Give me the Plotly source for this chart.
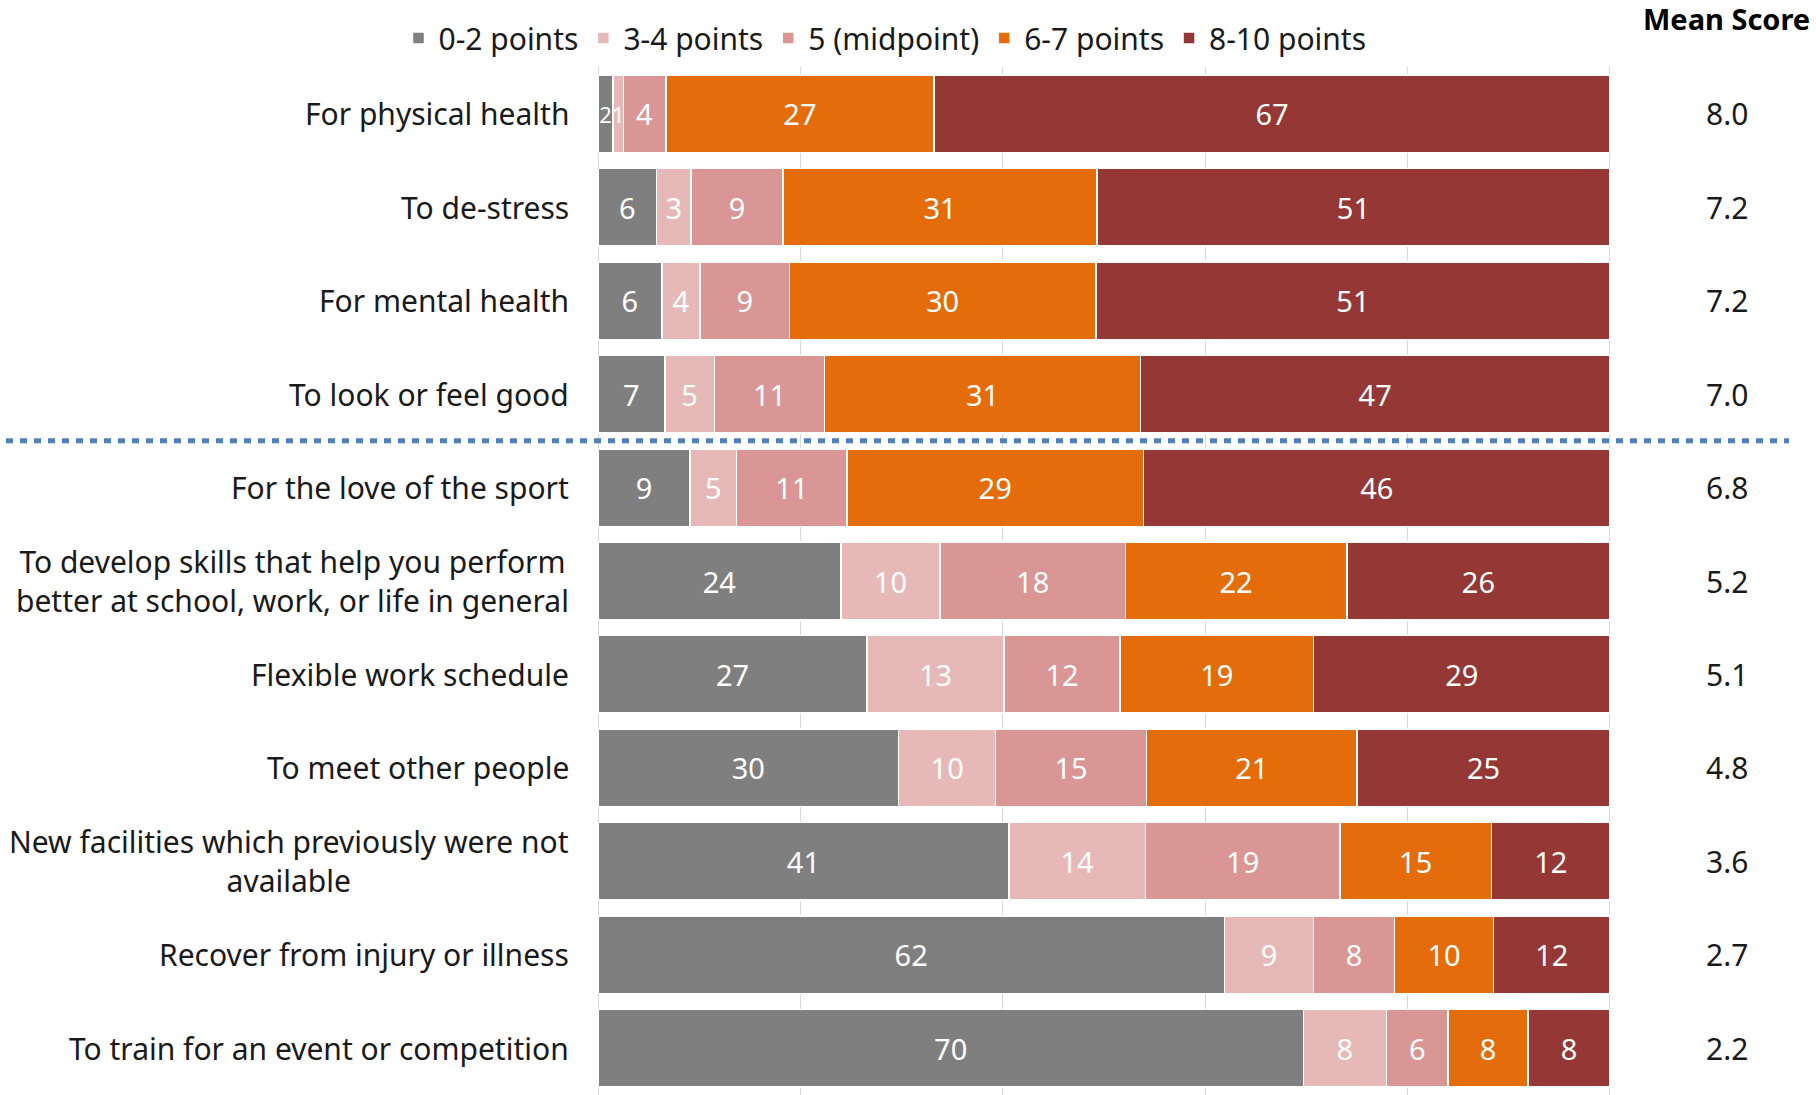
import plotly.graph_objects as go

categories = [
    "For physical health",
    "To de-stress",
    "For mental health",
    "To look or feel good",
    "For the love of the sport",
    "To develop skills that help you perform<br>better at school, work, or life in general",
    "Flexible work schedule",
    "To meet other people",
    "New facilities which previously were not<br>available",
    "Recover from injury or illness",
    "To train for an event or competition",
]

series_names = ["0-2 points", "3-4 points", "5 (midpoint)", "6-7 points", "8-10 points"]

# bar lengths (percent)
share_0_2 = [1.5, 5.8, 6.3, 6.6, 9.1, 24.0, 26.6, 29.7, 40.6, 61.9, 69.7]
share_3_4 = [1.0, 3.4, 3.8, 4.9, 4.6, 9.8, 13.5, 9.6, 13.5, 8.8, 8.2]
share_5 = [4.2, 9.1, 8.8, 10.9, 10.9, 18.3, 11.5, 14.9, 19.2, 8.0, 6.1]
share_6_7 = [26.5, 31.0, 30.3, 31.2, 29.3, 21.9, 19.1, 20.8, 15.0, 9.8, 7.9]
share_8_10 = [66.8, 50.7, 50.8, 46.4, 46.1, 26.0, 29.3, 25.0, 11.7, 11.5, 8.1]

# labels shown in the bars
label_0_2 = [2, 6, 6, 7, 9, 24, 27, 30, 41, 62, 70]
label_3_4 = [1, 3, 4, 5, 5, 10, 13, 10, 14, 9, 8]
label_5 = [4, 9, 9, 11, 11, 18, 12, 15, 19, 8, 6]
label_6_7 = [27, 31, 30, 31, 29, 22, 19, 21, 15, 10, 8]
label_8_10 = [67, 51, 51, 47, 46, 26, 29, 25, 12, 12, 8]

mean_scores = ["8.0", "7.2", "7.2", "7.0", "6.8", "5.2", "5.1", "4.8", "3.6", "2.7", "2.2"]

colors = ["#7F7F7F", "#E6B9B8", "#D99694", "#E46C0A", "#953735"]

shares = [share_0_2, share_3_4, share_5, share_6_7, share_8_10]
labels = [label_0_2, label_3_4, label_5, label_6_7, label_8_10]

FONT = "Noto Sans"
FS = 30
BAR_FS = 29
NARROW_FS = 22  # for the very thin segments


def sizes_for(share):
    return [NARROW_FS if v < 2 else BAR_FS for v in share]


fig = go.Figure()
for name, s, lab, c in zip(series_names, shares, labels, colors):
    fig.add_trace(go.Bar(
        y=categories, x=s, name=name, orientation="h",
        marker=dict(color=c, line=dict(color="white", width=1.5)),
        text=[str(v) for v in lab], textposition="inside",
        insidetextanchor="middle", constraintext="none",
        textfont=dict(color="white", size=sizes_for(s), family=FONT),
        hoverinfo="skip",
    ))

W, H = 1816, 1095
L, R, T, B = 598, 205, 67, 0
pw = W - L - R
ph = H - T - B

annotations = []
for cat in categories:
    annotations.append(dict(
        x=0, xref="paper", y=cat, yref="y", text=cat, showarrow=False,
        xanchor="right", yanchor="middle", align="center", xshift=-27,
        font=dict(family=FONT, size=FS, color="#1a1a1a"),
    ))
for cat, m in zip(categories, mean_scores):
    annotations.append(dict(
        x=(1727 - L) / pw, xref="paper", y=cat, yref="y", text=m, showarrow=False,
        xanchor="center", yanchor="middle",
        font=dict(family=FONT, size=FS, color="#1a1a1a"),
    ))
annotations.append(dict(
    x=(1812 - L) / pw, xref="paper", y=1 + (T - 19) / ph, yref="paper",
    text="<b>Mean Score</b>", showarrow=False, xanchor="right", yanchor="middle",
    font=dict(family=FONT, size=29, color="#000000"),
))

fig.update_layout(
    barmode="stack",
    bargap=0.17,
    width=W, height=H,
    margin=dict(l=L, r=R, t=T, b=B, pad=0),
    paper_bgcolor="white", plot_bgcolor="white",
    font=dict(family=FONT, size=FS, color="#1a1a1a"),
    showlegend=True,
    legend=dict(
        orientation="h", x=(885 - L) / pw, xanchor="center",
        y=1 + (T - 38) / ph, yanchor="middle",
        font=dict(family=FONT, size=30, color="#1a1a1a"),
        traceorder="normal", itemwidth=30, bgcolor="rgba(0,0,0,0)",
    ),
    xaxis=dict(range=[0, 100.1], dtick=20, tick0=0, showticklabels=False,
               showgrid=True, gridcolor="#D9D9D9", gridwidth=1,
               zeroline=True, zerolinecolor="#D9D9D9", zerolinewidth=1,
               showline=False, fixedrange=True),
    yaxis=dict(autorange="reversed", showticklabels=False, showgrid=False,
               zeroline=False, showline=False, fixedrange=True),
    annotations=annotations,
    shapes=[dict(
        type="line", xref="paper", yref="y",
        x0=(6 - L) / pw, x1=(1789 - L) / pw, y0=3.5, y1=3.5,
        line=dict(color="#4F81BD", width=5, dash="7px,7px"),
    )],
)

fig.write_html("out.html")
